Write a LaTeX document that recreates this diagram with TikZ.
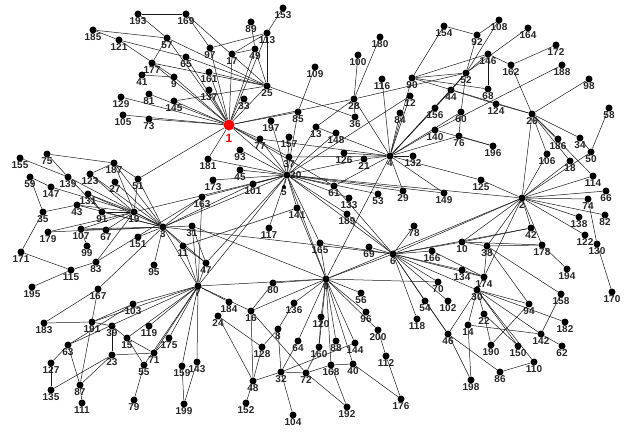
\documentclass[tikz,border=0pt]{standalone}
\usepackage{fontspec}
\setmainfont{Liberation Sans}
\begin{document}
\begin{tikzpicture}[x=1pt,y=-1pt,
  dot/.style={circle,fill=black,inner sep=0pt,minimum size=7pt},
  lab/.style={font=\fontsize{10}{10}\selectfont\bfseries,inner sep=0.3pt,text=black!85},
  edge/.style={line width=0.5pt,black!90}]
\useasboundingbox (0,0) rectangle (630,436);
\foreach \n/\x/\y in {193/138/14,169/186/14,185/93/30,121/119/40,57/167/38,97/210/48,17/232/54,113/267/33,49/255/49,89/251/22,153/283/8,
65/186/57,177/152/63,41/142/75,161/209/72,9/174/77,137/209/90,25/267/86,33/244/99,145/174/101,81/149/94,129/121/97,105/123/115,73/149/119,
197/271/121,85/298/112,157/289/137,13/316/127,109/315/67,77/260/139,93/240/150,37/289/157,181/208/159,45/240/170,173/213/180,101/253/184,
163/202/197,117/269/228,141/297/208,51/138/179,187/114/163,75/47/154,155/20/158,59/30/177,139/68/177,123/90/174,147/51/187,131/88/194,27/115/182,
35/43/212,43/77/205,91/102/212,19/134/212,3/163/227,31/192/226,107/81/229,67/106/230,179/48/232,151/138/237,11/183/246,171/21/252,99/87/246,83/96/262,115/71/270,95/154/265,47/206/263,
195/32/287,167/98/289,7/198/286,184/229/302,24/218/316,16/251/311,80/273/283,136/294/303,8/278/329,183/44/323,191/92/322,103/133/304,39/112/326,119/149/326,
63/68/345,15/127/338,175/169/338,23/112/355,71/154/353,55/144/365,159/182/366,143/197/362,127/51/363,135/51/390,87/80/385,111/82/403,79/134/400,199/184/404,
128/262/347,64/298/341,48/253/381,32/281/372,72/306/373,152/246/403,104/293/415,
0/326/279,56/361/293,96/366/312,120/321/317,88/336/341,144/355/343,160/319/347,200/378/330,168/331/365,40/353/364,112/386/356,176/401/399,192/347/407,118/417/319,54/425/301,
189/347/214,165/320/243,69/369/247,6/393/254,78/414/226,10/462/242,166/432/251,38/487/246,42/531/228,178/542/245,194/567/269,134/462/270,70/438/282,174/484/277,30/477/290,
102/448/301,94/529/304,158/561/294,22/484/314,14/468/325,46/448/334,182/565/322,142/541/334,62/562/346,190/491/345,150/518/346,110/534/362,86/500/372,198/471/380,
138/579/217,82/605/215,122/585/235,130/597/244,170/612/292,
154/444/26,108/499/20,92/477/35,164/528/28,146/488/54,172/556/45,162/511/65,188/562/65,180/380/37,100/358/55,52/466/73,116/382/79,90/412/78,68/488/89,98/589/79,
28/354/99,44/451/90,12/410/96,156/435/108,60/461/112,124/496/104,26/532/114,58/609/108,84/400/113,36/355/117,140/435/130,76/459/136,196/493/146,186/558/139,34/580/138,
148/336/133,4/390/156,132/413/156,126/344/153,21/364/159,106/547/154,50/591/152,18/570/161,114/593/176,125/481/180,61/334/186,133/349/198,53/378/194,29/403/191,149/444/193,
2/522/198,66/606/191,74/588/199}
  \node[dot,label={[lab,yshift=1pt]below:\n}] (n\n) at (\x,\y) {};
\node[dot,label={[lab,xshift=-1pt]right:20}] (n20) at (287,175) {};
\node[dot,minimum size=4pt,label={[lab,yshift=1pt]below:5}] (n5) at (284,187) {};
\node[circle,fill=red,inner sep=0pt,minimum size=11pt,label={[font=\fontsize{12}{12}\selectfont\bfseries,text=red]below:1}] (n1) at (229,125) {};
\foreach \a/\b in {193/169,193/57,185/57,185/121,121/9,121/65,169/97,169/25,57/1,57/25,57/177,65/1,65/25,97/1,97/113,17/1,17/49,17/113,49/1,49/25,89/49,153/113,113/25,113/1,
177/1,177/25,9/1,9/41,161/1,161/25,137/1,145/1,145/25,81/1,73/1,105/1,129/1,33/1,25/1,25/36,1/85,1/77,1/20,1/37,1/51,1/181,1/28,1/61,
109/85,85/20,197/20,157/20,13/20,77/20,77/4,93/20,45/20,173/20,101/20,181/20,163/20,117/20,141/20,20/61,20/21,20/148,20/29,20/149,20/2,20/6,20/189,20/165,20/0,20/7,20/3,20/19,20/47,20/12,37/4,20/133,20/53,
4/28,4/116,4/90,4/84,4/12,4/156,4/140,4/60,4/52,4/44,4/76,4/132,4/126,4/21,4/149,4/29,4/0,4/125,4/61,4/13,28/100,28/180,28/13,28/36,28/52,90/154,90/52,90/146,90/68,90/26,
52/92,52/108,52/146,52/164,52/44,52/60,52/156,92/154,92/108,146/162,162/26,172/162,188/140,98/26,26/124,124/44,26/2,26/186,26/34,26/106,26/18,26/114,58/50,50/34,50/2,18/2,106/2,114/2,66/2,74/2,82/2,138/2,122/2,130/74,170/130,
2/125,2/42,2/178,2/10,2/38,2/174,2/6,2/0,60/76,76/196,140/196,68/146,
6/69,6/165,6/10,6/166,6/78,6/134,6/70,6/174,6/30,6/102,6/54,6/118,6/0,6/46,6/42,6/189,6/61,
30/174,38/174,38/10,38/178,38/158,38/94,10/42,10/178,178/194,30/94,30/142,30/182,30/150,30/110,30/22,30/14,30/46,14/198,14/142,22/190,46/86,46/198,86/110,190/94,142/158,142/62,174/134,174/166,54/46,150/22,
0/80,0/136,0/56,0/96,0/120,0/88,0/144,0/200,0/64,0/160,0/168,0/40,0/7,0/165,0/141,0/16,0/70,120/160,200/112,112/176,40/176,168/192,168/40,168/72,160/72,144/32,64/32,8/32,8/136,8/128,16/80,16/48,16/72,24/128,24/48,128/48,48/32,32/104,48/152,72/192,32/72,7/184,7/47,7/16,
7/3,7/31,7/11,7/103,7/119,7/15,7/175,7/71,7/55,7/159,7/143,7/191,7/63,7/163,159/199,143/199,55/79,71/23,71/15,175/71,15/39,39/23,39/191,191/183,191/103,103/63,63/127,63/87,23/135,23/87,87/111,167/183,167/87,167/3,15/55,127/135,
3/19,3/91,3/187,3/51,3/27,3/123,3/139,3/131,3/43,3/107,3/67,3/179,3/151,3/31,3/11,3/95,3/163,3/47,3/101,19/43,19/91,19/187,19/51,19/123,19/131,19/107,19/179,19/67,19/83,75/187,75/139,155/139,59/147,59/35,35/171,35/43,171/115,115/83,195/115,83/163,99/107,107/67,187/123,187/51,139/91,147/19,131/91,31/47,11/47,3/6,31/0,11/141,5/20}
  \draw[edge] (n\a) -- (n\b);
\end{tikzpicture}
\end{document}
